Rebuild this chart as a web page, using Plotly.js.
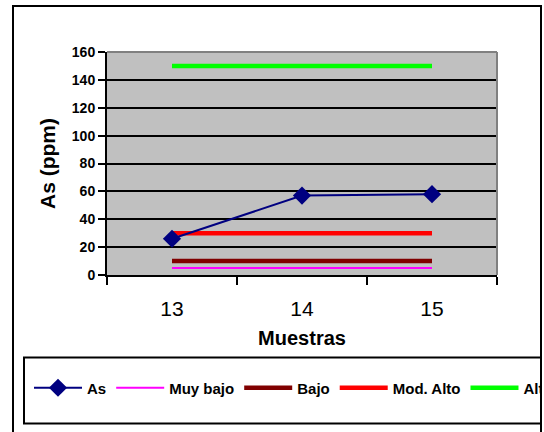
<!DOCTYPE html>
<html>
<head>
<meta charset="utf-8">
<script src="https://cdn.plot.ly/plotly-3.0.1.min.js"></script>
<style>
  html, body { margin: 0; padding: 0; background: #ffffff; overflow: hidden; }
  #wrap { position: absolute; left: 0; top: 0; width: 540px; height: 432px; overflow: hidden; }
  #chart { width: 720px; height: 432px; }
  /* outer chart frame */
  #frame { position: absolute; left: 12px; top: 5px; width: 526px; height: 500px;
           border: 2px solid #000000; pointer-events: none; }
</style>
</head>
<body>
<div id="wrap"><div id="chart"></div></div>
<div id="frame"></div>
<script>
// Sample categories and arsenic concentrations (ppm)
const muestras = ['13', '14', '15'];
const asValues = [26, 57, 58];

// Reference thresholds drawn as flat lines across the samples
const muyBajo = [5, 5, 5];
const bajo = [10, 10, 10];
const modAlto = [30, 30, 30];
const alto = [150, 150, 150];

const yTicks = [0, 20, 40, 60, 80, 100, 120, 140, 160];

const FONT = 'Arial, "Liberation Sans", sans-serif';

// Plot area: x 107..497 px, y 52..275 px inside a wide figure (clipped at 540 px)
const W = 720, H = 432;
const L = 107, R = 497, T = 52, B = 275;
const px = v => (v - L) / (R - L);
const py = v => (B - v) / (B - T);

const traces = [
  { x: muestras, y: muyBajo, name: 'Muy bajo', mode: 'lines', legendrank: 2,
    line: { color: '#ff00ff', width: 2 } },
  { x: muestras, y: bajo, name: 'Bajo', mode: 'lines', legendrank: 3,
    line: { color: '#800000', width: 4.5 } },
  { x: muestras, y: modAlto, name: 'Mod. Alto', mode: 'lines', legendrank: 4,
    line: { color: '#ff0000', width: 4.5 } },
  { x: muestras, y: alto, name: 'Alto', mode: 'lines', legendrank: 5,
    line: { color: '#00ff00', width: 4.5 } },
  { x: muestras, y: asValues, name: 'As', mode: 'lines+markers', legendrank: 1,
    line: { color: '#000080', width: 2 },
    marker: { symbol: 'diamond', size: 14, color: '#000080' } }
];

const layout = {
  width: W, height: H,
  margin: { l: L, r: W - R, t: T, b: H - B, pad: 0 },
  paper_bgcolor: '#ffffff',
  plot_bgcolor: '#c0c0c0',
  font: { family: FONT, color: '#000000' },
  showlegend: true,
  legend: {
    orientation: 'h',
    x: px(558), xanchor: 'right',
    y: py(388), yanchor: 'middle',
    bgcolor: 'rgba(0,0,0,0)',
    borderwidth: 0,
    itemwidth: 48,
    font: { family: FONT, size: 15, weight: 'bold', color: '#000000' }
  },
  xaxis: {
    type: 'category',
    range: [-0.5, 2.5],
    showgrid: false,
    zeroline: false,
    showline: true, linecolor: '#000000', linewidth: 2,
    ticks: 'outside', tickson: 'boundaries', ticklen: 8, tickwidth: 2, tickcolor: '#000000',
    ticklabelstandoff: 14,
    tickfont: { family: FONT, size: 21, color: '#000000' },
    title: { text: 'Muestras', standoff: 12,
      font: { family: FONT, size: 20, weight: 'bold', color: '#000000' } },
    fixedrange: true
  },
  yaxis: {
    range: [0, 160],
    tickvals: yTicks,
    ticktext: yTicks.map(String),
    showgrid: true, gridcolor: '#000000', gridwidth: 2,
    zeroline: false,
    showline: true, linecolor: '#000000', linewidth: 2,
    ticks: 'outside', ticklen: 7, tickwidth: 2, tickcolor: '#000000',
    tickfont: { family: FONT, size: 14, weight: 'bold', color: '#000000' },
    title: { text: 'As (ppm)', standoff: 10,
      font: { family: FONT, size: 21, weight: 'bold', color: '#000000' } },
    fixedrange: true
  },
  shapes: [
    // grey frame on top and right of the plot area
    { type: 'line', xref: 'paper', yref: 'paper', x0: 0, x1: 1, y0: 1, y1: 1,
      line: { color: '#808080', width: 2 } },
    { type: 'line', xref: 'paper', yref: 'paper', x0: 1, x1: 1, y0: 0, y1: 1,
      line: { color: '#808080', width: 2 } },
    // legend box
    { type: 'rect', xref: 'paper', yref: 'paper',
      x0: px(24), x1: px(700), y0: py(423.5), y1: py(357.5),
      line: { color: '#000000', width: 2 } }
  ]
};

Plotly.newPlot('chart', traces, layout, { displayModeBar: false, staticPlot: true });
</script>
</body>
</html>
